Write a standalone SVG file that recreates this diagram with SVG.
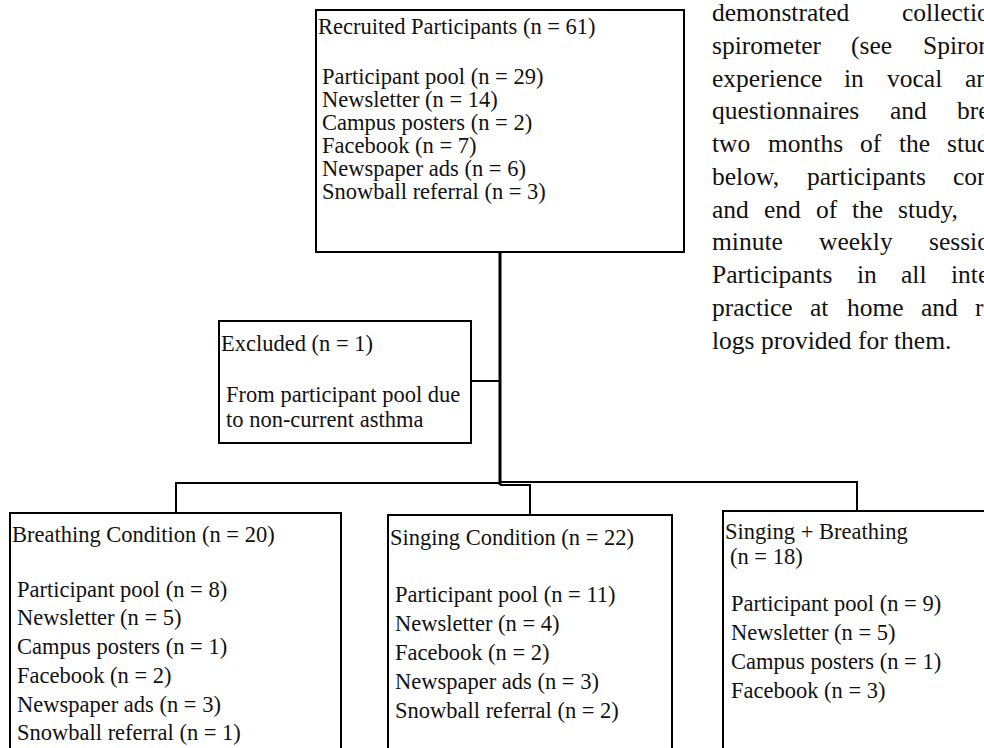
<svg xmlns="http://www.w3.org/2000/svg" width="984" height="748" viewBox="0 0 984 748">
<style>
text{font-family:"Liberation Serif","Times New Roman",serif;font-size:22.5px;fill:#111}
#paragraph text{font-size:25.5px}
.box{fill:#fff;stroke:#000;stroke-width:2}
.ln{fill:none;stroke:#000;stroke-width:2}
.main{fill:none;stroke:#000;stroke-width:3}
</style>
<rect width="984" height="748" fill="#fff"/>
<g id="paragraph">
<text y="21"><tspan x="712">demonstrated</tspan><tspan x="902">collectio</tspan></text>
<text y="54"><tspan x="712">spirometer</tspan><tspan x="851">(see</tspan><tspan x="923">Spiron</tspan></text>
<text y="87"><tspan x="712">experience</tspan><tspan x="844">in</tspan><tspan x="887">vocal</tspan><tspan x="965">an</tspan></text>
<text y="119"><tspan x="712">questionnaires</tspan><tspan x="890">and</tspan><tspan x="957">bre</tspan></text>
<text y="152"><tspan x="712">two</tspan><tspan x="768">months</tspan><tspan x="860">of</tspan><tspan x="899">the</tspan><tspan x="947">stud</tspan></text>
<text y="185"><tspan x="712">below,</tspan><tspan x="807">participants</tspan><tspan x="953">com</tspan></text>
<text y="218"><tspan x="712">and</tspan><tspan x="764">end</tspan><tspan x="816">of</tspan><tspan x="852">the</tspan><tspan x="898">study,</tspan></text>
<text y="250"><tspan x="712">minute</tspan><tspan x="819">weekly</tspan><tspan x="929">sessio</tspan></text>
<text y="283"><tspan x="712">Participants</tspan><tspan x="857">in</tspan><tspan x="901">all</tspan><tspan x="951">inte</tspan></text>
<text y="316"><tspan x="712">practice</tspan><tspan x="810">at</tspan><tspan x="847">home</tspan><tspan x="921">and</tspan><tspan x="975">r</tspan></text>
<text x="712" y="349">logs provided for them.</text>
</g>
<g id="connectors">
<path class="main" d="M500,252 V485"/>
<path class="ln" d="M471,381 H500"/>
<path class="ln" d="M176,513 V483 H500"/>
<path class="ln" d="M500,482 H857 V511"/>
<path class="ln" d="M500,485 H530 V515"/>
</g>
<g id="recruited">
<rect class="box" x="316" y="10" width="368" height="242"/>
<text x="318" y="34">Recruited Participants (n = 61)</text>
<text x="322" y="84">Participant pool (n = 29)</text>
<text x="322" y="107">Newsletter (n = 14)</text>
<text x="322" y="130">Campus posters (n = 2)</text>
<text x="322" y="153">Facebook (n = 7)</text>
<text x="322" y="176">Newspaper ads (n = 6)</text>
<text x="322" y="199">Snowball referral (n = 3)</text>
</g>
<g id="excluded">
<rect class="box" x="219" y="321" width="252" height="122"/>
<text x="221" y="351">Excluded (n = 1)</text>
<text x="226" y="402">From participant pool due</text>
<text x="226" y="427">to non-current asthma</text>
</g>
<g id="breathing">
<rect class="box" x="10" y="513" width="331" height="250"/>
<text x="12" y="542">Breathing Condition (n = 20)</text>
<text x="17" y="597">Participant pool (n = 8)</text>
<text x="17" y="625">Newsletter (n = 5)</text>
<text x="17" y="654">Campus posters (n = 1)</text>
<text x="17" y="683">Facebook (n = 2)</text>
<text x="17" y="712">Newspaper ads (n = 3)</text>
<text x="17" y="740">Snowball referral (n = 1)</text>
</g>
<g id="singing">
<rect class="box" x="388" y="515" width="284" height="250"/>
<text x="390" y="545">Singing Condition (n = 22)</text>
<text x="395" y="602">Participant pool (n = 11)</text>
<text x="395" y="631">Newsletter (n = 4)</text>
<text x="395" y="660">Facebook (n = 2)</text>
<text x="395" y="689">Newspaper ads (n = 3)</text>
<text x="395" y="718">Snowball referral (n = 2)</text>
</g>
<g id="singing-breathing">
<rect class="box" x="723" y="511" width="280" height="250"/>
<text x="725" y="539">Singing + Breathing</text>
<text x="730" y="564">(n = 18)</text>
<text x="731" y="611">Participant pool (n = 9)</text>
<text x="731" y="640">Newsletter (n = 5)</text>
<text x="731" y="669">Campus posters (n = 1)</text>
<text x="731" y="698">Facebook (n = 3)</text>
</g>
</svg>
